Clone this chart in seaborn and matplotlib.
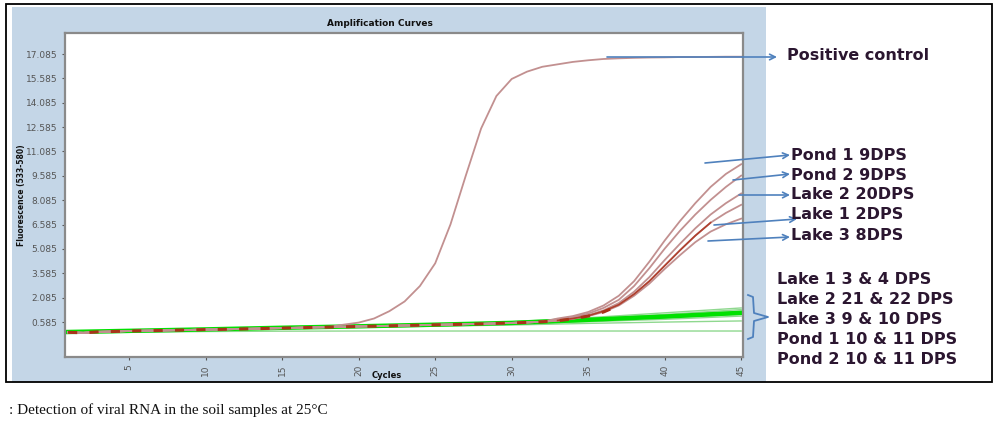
import pandas as pd
import matplotlib
matplotlib.use('Agg')
import matplotlib.pyplot as plt
import seaborn as sns
from matplotlib.patches import Rectangle
from matplotlib.lines import Line2D

# qPCR amplification curves
cycles = list(range(1, 46))

baseline = [-0.05, -0.08, -0.02, 0.0, 0.03, 0.05, 0.06, 0.08, 0.10, 0.12,
            0.13, 0.15, 0.17, 0.19, 0.21, 0.23, 0.25, 0.27, 0.29, 0.31,
            0.33, 0.35, 0.37, 0.39, 0.41, 0.43, 0.45, 0.47, 0.50, 0.53,
            0.56, 0.60, 0.65, 0.72, 0.80, 0.90, 1.0, 1.1, 1.2, 1.3,
            1.35, 1.4, 1.45, 1.5, 1.55]

positive_control = baseline[:18] + [0.42, 0.55, 0.8, 1.25, 1.85, 2.8, 4.2, 6.6, 9.6, 12.5,
                                    14.5, 15.55, 16.0, 16.3, 16.45, 16.6, 16.7, 16.78, 16.82, 16.85,
                                    16.87, 16.88, 16.9, 16.9, 16.91, 16.92, 16.92]
pond1_9dps = baseline[:32] + [0.8, 0.95, 1.2, 1.6, 2.2, 3.1, 4.3, 5.6, 6.8, 7.9, 8.9, 9.7, 10.3]
pond2_9dps = baseline[:32] + [0.75, 0.9, 1.1, 1.45, 1.95, 2.8, 3.9, 5.1, 6.2, 7.2, 8.1, 8.9, 9.6]
lake2_20dps = baseline[:32] + [0.7, 0.82, 1.0, 1.3, 1.75, 2.45, 3.35, 4.4, 5.4, 6.35, 7.2, 7.9, 8.5]
lake1_2dps = baseline[:32] + [0.68, 0.8, 0.97, 1.25, 1.65, 2.3, 3.1, 4.05, 5.0, 5.9, 6.7, 7.3, 7.8]
lake3_8dps = baseline[:32] + [0.66, 0.78, 0.95, 1.2, 1.6, 2.2, 2.95, 3.85, 4.7, 5.5, 6.15, 6.6, 6.95]

# negative samples (green), read every 5 cycles
neg_cycles = [1, 5, 10, 15, 20, 25, 30, 35, 40, 45]
neg_a = [-0.05, 0.05, 0.15, 0.25, 0.35, 0.45, 0.60, 0.85, 1.15, 1.45]
neg_b = [-0.05, 0.05, 0.15, 0.25, 0.35, 0.45, 0.58, 0.80, 1.05, 1.35]
neg_c = [-0.05, 0.04, 0.14, 0.24, 0.33, 0.43, 0.55, 0.75, 1.00, 1.25]
neg_d = [-0.03, 0.04, 0.13, 0.23, 0.32, 0.42, 0.53, 0.72, 0.92, 1.15]
neg_e = [-0.05, 0.03, 0.12, 0.21, 0.30, 0.40, 0.50, 0.68, 0.85, 1.05]
neg_f = [-0.08, 0.02, 0.10, 0.20, 0.28, 0.37, 0.46, 0.60, 0.75, 0.95]
neg_g = [-0.10, 0.00, 0.08, 0.17, 0.25, 0.33, 0.40, 0.50, 0.58, 0.65]
neg_h = [-0.10, -0.05, 0.00, 0.02, 0.03, 0.03, 0.03, 0.03, 0.03, 0.03]

yticks = [0.585 + 1.5 * k for k in range(12)]
xticks = [5, 10, 15, 20, 25, 30, 35, 40, 45]

pos_labels = ['Pond 1 9DPS', 'Pond 2 9DPS', 'Lake 2 20DPS', 'Lake 1 2DPS', 'Lake 3 8DPS']
neg_labels = ['Lake 1 3 & 4 DPS', 'Lake 2 21 & 22 DPS', 'Lake 3 9 & 10 DPS',
              'Pond 1 10 & 11 DPS', 'Pond 2 10 & 11 DPS']

pos_curves = {'Positive control': positive_control, 'Pond 1 9DPS': pond1_9dps,
              'Pond 2 9DPS': pond2_9dps, 'Lake 2 20DPS': lake2_20dps,
              'Lake 1 2DPS': lake1_2dps, 'Lake 3 8DPS': lake3_8dps}
neg_curves = {'a': neg_a, 'b': neg_b, 'c': neg_c, 'e': neg_e,
              'f': neg_f, 'g': neg_g, 'h': neg_h}

rows = []
for name, vals in pos_curves.items():
    for c, v in zip(cycles, vals):
        rows.append((name, c, v))
pos_df = pd.DataFrame(rows, columns=['sample', 'cycle', 'fluor'])
rows = []
for name, vals in neg_curves.items():
    for c, v in zip(neg_cycles, vals):
        rows.append((name, c, v))
neg_df = pd.DataFrame(rows, columns=['sample', 'cycle', 'fluor'])

W, H = 1001, 432
def fx(x):
    return x / W
def fy(y):
    return 1 - y / H

fig = plt.figure(figsize=(10.01, 4.32), dpi=100)
fig.patch.set_facecolor('white')

# grey-blue panel and frame of the screenshot
fig.patches.append(Rectangle((fx(12), fy(382)), fx(766 - 12), (382 - 7) / H,
                             transform=fig.transFigure, fc='#c4d6e7', ec='none', zorder=-5))
fig.patches.append(Rectangle((fx(6), fy(382)), fx(992 - 6), (382 - 4) / H,
                             transform=fig.transFigure, fill=False, ec='black', lw=1.3, zorder=5))

ax = fig.add_axes([fx(65), fy(357), fx(743 - 65), (357 - 33) / H])
ax.set_zorder(3)
ax.set_facecolor('white')

sns.lineplot(data=neg_df, x='cycle', y='fluor', units='sample', estimator=None,
             color='#8fd88f', lw=1.0, ax=ax, legend=False)
sns.lineplot(x=neg_cycles, y=neg_d, color='#00e000', lw=3.2, ax=ax)
sns.lineplot(data=pos_df, x='cycle', y='fluor', units='sample', estimator=None,
             color='#c29090', lw=1.3, ax=ax, legend=False)
# darker red where the late curves lift off
sns.lineplot(x=cycles[32:43], y=lake1_2dps[32:43], color='#b0402e', lw=1.2, ax=ax)
sns.lineplot(x=cycles[:37], y=lake3_8dps[:37], color='#a8341a', lw=2.2,
             linestyle=(0, (3, 4)), ax=ax)

ax.set_xlim(0.8, 45.12)
ax.set_ylim(-1.57, 18.38)
ax.set_xticks(xticks)
ax.set_yticks(yticks)
ax.set_yticklabels(['%.3f' % t for t in yticks])
ax.tick_params(axis='x', labelrotation=90, labelsize=6.5, colors='#555555', length=2)
ax.tick_params(axis='y', labelsize=6.5, colors='#555555', length=2)
for s in ax.spines.values():
    s.set_color('#8a8a8a')
    s.set_linewidth(1.6)
ax.set_xlabel('')
ax.set_ylabel('')

fig.text(fx(380), fy(23), 'Amplification Curves', ha='center', va='center',
         fontsize=6.5, fontweight='bold', color='#111111')
fig.text(fx(22), fy(195), 'Fluorescence (533-580)', ha='center', va='center',
         rotation=90, fontsize=5.5, fontweight='bold', color='#111111')
fig.text(fx(387), fy(376), 'Cycles', ha='center', va='center',
         fontsize=6, fontweight='bold', color='#111111')

txt_color = '#2b1630'
arrow_color = '#4f81bd'
lab_font = dict(fontsize=11.5, fontweight='bold', color=txt_color)


def arrow(tail, head):
    ax.annotate('', xy=(fx(head[0]), fy(head[1])), xytext=(fx(tail[0]), fy(tail[1])),
                xycoords='figure fraction', textcoords='figure fraction',
                annotation_clip=False,
                arrowprops=dict(arrowstyle='->', color=arrow_color, lw=1.2,
                                shrinkA=0, shrinkB=0))


fig.text(fx(787), fy(56), 'Positive control', ha='left', va='center', **lab_font)
arrow((607, 57), (777, 57))

pos_text_y = [156, 175, 195, 215, 236]
arrow_tails = [(705, 163), (733, 180), (739, 195), (714, 225), (708, 241)]
arrow_heads = [(790, 155), (790, 174), (790, 195), (797, 219), (790, 237)]
for lab, ty, tail, head in zip(pos_labels, pos_text_y, arrow_tails, arrow_heads):
    fig.text(fx(791), fy(ty), lab, ha='left', va='center', **lab_font)
    arrow(tail, head)

neg_text_y = [280, 300, 320, 340, 360]
for lab, ty in zip(neg_labels, neg_text_y):
    fig.text(fx(777), fy(ty), lab, ha='left', va='center', **lab_font)

# curly bracket grouping the negative samples
bx = [748, 753, 754, 768, 754, 753, 748]
by = [295, 297, 313, 317, 321, 337, 339]
fig.lines.append(Line2D([fx(v) for v in bx], [fy(v) for v in by], transform=fig.transFigure,
                        color=arrow_color, lw=1.3, zorder=6))

fig.text(fx(9), fy(410), ': Detection of viral RNA in the soil samples at 25\u00b0C',
         ha='left', va='center', fontsize=11, family='Liberation Serif', color='#111111')

fig.savefig('out.png', dpi=100)
